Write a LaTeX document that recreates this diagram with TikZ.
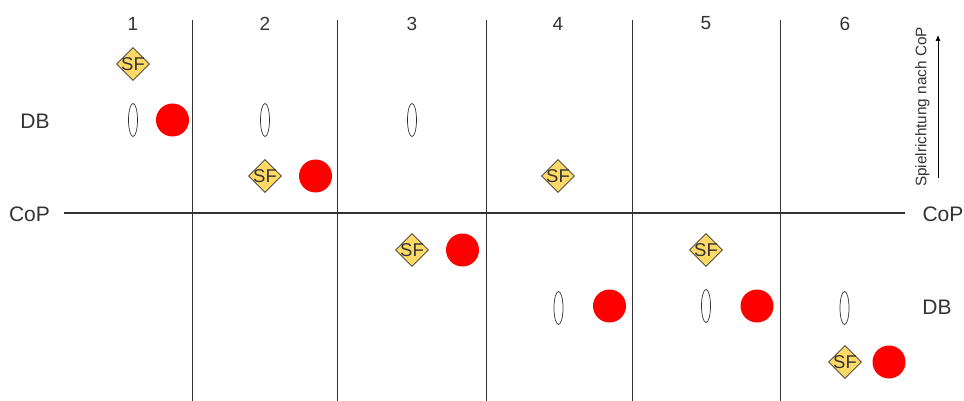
\documentclass[tikz,border=0pt]{standalone}
\usepackage{fontspec}
\setmainfont{Liberation Sans}
\usetikzlibrary{shapes.geometric,arrows.meta}
\definecolor{sfyellow}{HTML}{FFD966}
\definecolor{ink}{HTML}{333333}
\tikzset{x=1pt,y=-1pt,
 sfbox/.style={diamond,draw=ink,line width=0.8pt,fill=sfyellow,minimum size=33pt,inner sep=0pt},
 sflbl/.style={text=ink,font=\fontsize{18.5}{19}\selectfont,inner sep=0pt},
 player/.style={circle,fill=red,minimum size=33pt,inner sep=0pt},
 marker/.style={ellipse,draw=ink,line width=0.7pt,fill=white,minimum width=9pt,minimum height=33pt,inner sep=0pt},
 grid/.style={draw=ink,line width=0.9pt},
 lbl/.style={text=ink,font=\fontsize{21}{22}\selectfont,inner sep=0pt},
 numlbl/.style={text=ink,font=\fontsize{19}{19}\selectfont,inner sep=0pt}}
\begin{document}
\begin{tikzpicture}
\useasboundingbox (0,0) rectangle (964,401);
\foreach \n/\x in {a/192.5,b/337,c/486.5,d/632,e/780}{
 \coordinate (top\n) at (\x,20); \coordinate (bot\n) at (\x,401);
 \draw[grid] (top\n) -- (bot\n);}
\foreach \t/\x in {1/133,2/265,3/412,4/558,5/706,6/845}{
 \node[numlbl] (h\t) at (\x,23.5) {\t};}
\node[lbl] (copl) at (29.5,214) {CoP};
\node[lbl] (copr) at (943,214) {CoP};
\coordinate (cs) at (64,213); \coordinate (ce) at (905,213);
\draw[draw=ink,line width=1.9pt] (cs) -- (ce);
\node[lbl] (dbl) at (35,121) {DB};
\node[lbl] (dbr) at (937,307) {DB};
\node[sfbox] (s1) at (133,64) {};
\node[sfbox] (s2) at (265,176) {};
\node[sfbox] (s3) at (412,250) {};
\node[sfbox] (s4) at (558,176) {};
\node[sfbox] (s5) at (706,250) {};
\node[sfbox] (s6) at (845,362) {};
\foreach \k in {1,...,6}{
 \node[sflbl] (t\k) at (s\k) {SF};}
\node[player] (p1) at (172.5,120) {};
\node[player] (p2) at (315.5,176) {};
\node[player] (p3) at (462.5,250) {};
\node[player] (p4) at (609.5,306) {};
\node[player] (p5) at (757,306) {};
\node[player] (p6) at (889,362) {};
\node[marker] (m1) at (133,120) {};
\node[marker] (m2) at (265,120) {};
\node[marker] (m3) at (412,120) {};
\node[marker] (m4) at (558.5,308) {};
\node[marker] (m5) at (706,306) {};
\node[marker] (m6) at (844.5,308) {};
\coordinate (as) at (938,178); \coordinate (ae) at (938,35);
\draw[draw=black,line width=0.7pt,-{Latex[length=6pt,width=5pt]}] (as) -- (ae);
\node[text=ink,font=\fontsize{15.3}{16}\selectfont,rotate=90,inner sep=0pt] (sp) at (922.5,107) {Spielrichtung nach CoP};
\end{tikzpicture}
\end{document}
